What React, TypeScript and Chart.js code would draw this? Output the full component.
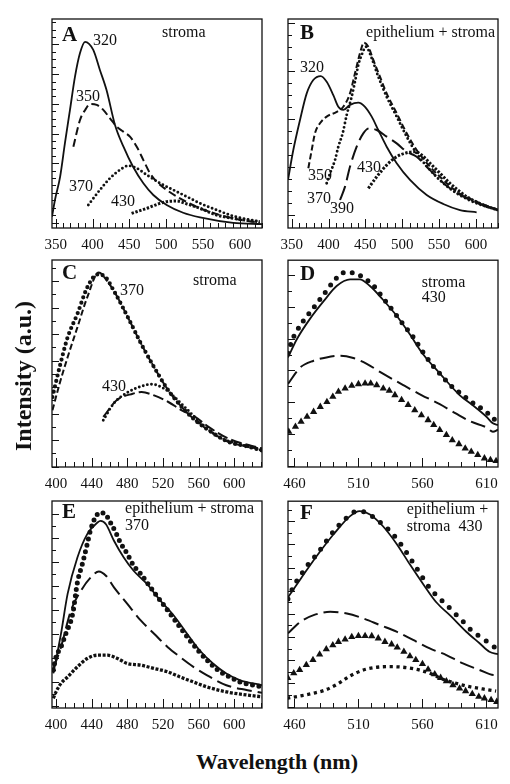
import React, { useEffect, useRef } from "react";
import { Chart, registerables } from "chart.js";

Chart.register(...registerables);

const SERIF = "'Liberation Serif', 'Times New Roman', Times, serif";
Chart.defaults.font.family = SERIF;

// ---------------- Panel A : stroma ----------------
const A_X_TICKS = [350, 400, 450, 500, 550, 600];
const A_WL_320 = [345, 349, 356, 362.6, 369.4, 376.2, 383, 389.8, 401, 410, 419, 430.5, 442, 455, 469, 482.5, 500.6, 523, 546, 591, 630];
const A_INT_320 = [5.4, 13.4, 24.5, 40.7, 56.5, 72.4, 83.7, 89.1, 85.2, 75.6, 66, 49.3, 38.9, 29.3, 21.4, 15.8, 11, 7.3, 5.1, 2.5, 1.9];
const A_WL_350 = [374, 383, 390, 396.6, 405.7, 414.6, 423.7, 432.8, 441.8, 450.8, 460, 469, 478, 487, 500.6, 518.7, 546, 591, 627];
const A_INT_350 = [38.9, 51.7, 56.5, 59.3, 58.9, 56.5, 52.5, 48.5, 46.1, 43.7, 38.9, 32.5, 26.2, 22.2, 18.2, 14.2, 9.4, 4.6, 2.5];
const A_WL_370 = [394.3, 410, 423.7, 437.3, 448.6, 460, 473.5, 491.6, 509.6, 527.8, 546, 568.5, 591, 627];
const A_INT_370 = [11, 18.2, 23.8, 27.8, 29.8, 28.6, 25.4, 21.4, 18.2, 15, 11.8, 8.6, 5.7, 3];
const A_WL_430 = [453, 473.5, 491.6, 500.6, 514, 528, 546, 568.5, 591, 627];
const A_INT_430 = [7, 9.4, 11.8, 12.6, 12.9, 11.5, 9.4, 6.2, 4.6, 3];

// ---------------- Panel B : epithelium + stroma ----------------
const B_X_TICKS = [350, 400, 450, 500, 550, 600];
const B_WL_320 = [345, 352.2, 361.3, 370.4, 379.3, 389.4, 397.5, 406.5, 413.3, 420.1, 429.1, 440.4, 449.5, 458.6, 467.5, 478.9, 492.5, 510.6, 533.2, 555.7, 578.4, 601];
const B_INT_320 = [23, 37.3, 51.7, 64.4, 70.8, 72.7, 70, 63.6, 58, 56.5, 58.9, 60, 58, 53.3, 46.9, 38.9, 31, 23, 15.8, 11.5, 8.6, 7.5];
const B_WL_350 = [372.6, 377.2, 381.6, 388.4, 397.5, 411.1, 420, 429.1, 435.9, 442.7, 448.1, 454, 460.8, 469.8, 478.9, 492.5, 506.1, 519.6, 537.7, 555.7, 573.9, 601, 630];
const B_INT_350 = [28.6, 37.3, 45.3, 50.1, 53.3, 55.6, 58, 64.4, 74, 83.6, 88.7, 86.7, 80.4, 72.4, 64.4, 54.9, 45.3, 37.3, 29.3, 23, 17.4, 12.6, 8.6];
const B_WL_370 = [397.5, 402.9, 408.8, 413.3, 419.2, 424.7, 431.4, 437.3, 440.4, 445, 450.8, 458.6, 467.5, 478.9, 492.5, 506.1, 519.6, 537.7, 555.7, 573.9, 601, 630];
const B_INT_370 = [21.4, 26.9, 32.5, 38.9, 45.3, 54.1, 62.8, 72.4, 78, 82.8, 86.7, 81.2, 72.4, 62.8, 53.3, 43.7, 35.7, 27.8, 21.4, 16.6, 11.8, 8.6];
const B_WL_390 = [415.6, 422.4, 429.1, 438.2, 447.2, 455.3, 465.4, 478.9, 492.5, 506.1, 519.6, 533.2, 546.8, 564.8, 587.5, 610, 630];
const B_INT_390 = [13.4, 19.8, 29.3, 38.9, 45.3, 47.7, 46.9, 43.7, 40.5, 36.5, 34.1, 29.3, 24.5, 19, 14.2, 11, 8.6];
const B_WL_430 = [454, 465.4, 478.9, 492.5, 506.1, 517.3, 526.4, 537.7, 551.3, 564.8, 587.5, 610, 630];
const B_INT_430 = [19, 24.5, 30.1, 34.1, 36, 36.5, 34.9, 31, 26.2, 21.4, 15, 11, 8.6];

// ---------------- Panel C : stroma, 370 / 430 ----------------
const C_X_TICKS = [400, 440, 480, 520, 560, 600];
const C_WL_370_DOTS = [396, 404, 413, 424, 435, 446.5, 454, 465, 480.6, 495.5, 510, 526, 541, 556, 571, 593, 616, 631];
const C_INT_370_DOTS = [33.8, 48.2, 62.6, 74, 86.7, 93, 92.3, 85, 72.3, 59.5, 48.2, 37, 29, 22.6, 17.8, 12.2, 9.8, 8];
const C_WL_370_FIT = [396, 404, 413, 424, 435, 448, 457, 465, 480.6, 495.5, 510, 526, 541, 556, 571, 593, 616, 631];
const C_INT_370_FIT = [27.4, 40.2, 53, 67.5, 81.9, 94, 90, 85, 72.3, 59.5, 48.2, 37, 29, 22.6, 17.8, 12.2, 9.8, 8.4];
const C_WL_430_DOTS = [453, 465, 481, 496, 507, 521.5, 536.7, 548, 563, 582, 609, 631];
const C_INT_430_DOTS = [22.6, 30.8, 36.2, 39, 40, 37.8, 32.2, 27.4, 21, 14.6, 10.6, 8];
const C_WL_430_FIT = [453, 468, 486, 496, 510, 526, 541, 556, 571, 593, 616, 631];
const C_INT_430_FIT = [24.2, 32.2, 35.4, 36.2, 34.6, 31.4, 27.4, 24.2, 19.4, 13.8, 10.6, 9];

// ---------------- Panel D : stroma 430 ----------------
const D_X_TICKS = [460, 510, 560, 610];
const D_WL_DOTS = [455, 458, 462, 467, 475, 483, 491, 498, 506, 514, 522, 529, 537, 545, 553, 560.5, 568, 576, 581, 588, 593, 598, 603, 608, 612, 617];
const D_INT_DOTS = [55, 61, 65.9, 70.7, 77, 83.5, 90, 93.9, 93.9, 91.5, 87.5, 81.9, 75.5, 69, 62.6, 55.5, 49, 43.5, 40, 36.5, 34, 31.5, 29.5, 27.5, 25.5, 22.5];
const D_WL_FIT = [455, 462, 472, 483, 493, 503.5, 511, 519, 529, 540, 550, 560.5, 573.5, 589, 599, 610, 615, 619];
const D_INT_FIT = [53, 61.9, 71.5, 80.3, 87.5, 90.7, 90.7, 87.5, 81, 73, 64.3, 54.5, 45.3, 34.8, 30, 24.3, 21.1, 20.3];
const D_WL_DASH = [455, 464.7, 475, 485, 496, 506, 516.5, 526.8, 545, 559.2, 573.5, 586, 598, 609.8, 615, 619];
const D_INT_DASH = [40.2, 48.2, 51.4, 53, 53.8, 52.7, 49.9, 46, 39.6, 34.8, 30.4, 25.9, 21.9, 19.2, 17.1, 18];
const D_WL_TRI = [455.6, 460.8, 465.2, 469.9, 475, 480.2, 485.4, 490, 494.4, 499.6, 504.8, 510, 515.2, 519.6, 524.3, 529.4, 534.1, 538.5, 543.7, 548.8, 554, 559.2, 564.4, 568.8, 573.5, 578.7, 583.3, 588.5, 593.4, 598.1, 603.2, 608.4, 613.1, 617.5];
const D_INT_TRI = [17.1, 19.5, 21.9, 24.3, 26.7, 29.1, 31.5, 34, 36.4, 38, 39.3, 40.1, 40.4, 40.4, 39.6, 38, 36.9, 34.8, 32.4, 30, 27.5, 25.1, 22.7, 20.3, 17.9, 15.5, 13, 11.1, 9, 7.4, 5.8, 4.2, 3.4, 2.9];

// ---------------- Panel E : epithelium + stroma 370 ----------------
const E_X_TICKS = [400, 440, 480, 520, 560, 600];
const E_WL_DOTS = [397, 400, 405.6, 411, 418.7, 424, 430, 435, 439, 445, 450, 456, 461, 467, 472, 480, 487, 495, 506, 517, 528, 539, 550, 561, 573, 584, 595, 606, 621, 631];
const E_INT_DOTS = [18.3, 24.7, 29.5, 35.9, 45.5, 60.7, 70.3, 79.2, 86.4, 92.8, 94.4, 93.3, 89.6, 84.8, 80, 74.4, 68.8, 64.8, 58.3, 51.9, 45.5, 39, 32.7, 27, 21.5, 17.5, 15, 12.6, 11, 10.2];
const E_WL_FIT = [397, 405.6, 413, 424, 435, 446.5, 450, 456, 465, 476, 487, 502, 517, 532, 547, 561, 576, 591, 606, 631];
const E_INT_FIT = [16.7, 35.9, 55.1, 72.7, 84, 89.6, 90.4, 88.8, 80.8, 72.7, 66.3, 59.9, 51.9, 44.7, 35.9, 27.9, 21.5, 16.7, 13.5, 11];
const E_WL_DASH = [397, 405.6, 416.7, 428, 439, 448, 456, 465, 480, 495, 510, 525, 539, 554, 569, 591, 613.6, 631];
const E_INT_DASH = [19.1, 29.5, 47.1, 56.7, 63.1, 66, 63.9, 58.3, 50.3, 42.3, 35.9, 29.5, 24.7, 19.9, 15.9, 11, 8.7, 7.4];
const E_WL_SQ = [397, 400, 405.6, 413, 424, 435, 446.5, 458, 469, 480, 495, 510, 525, 539, 554, 569, 591, 613.6, 631];
const E_INT_SQ = [4.7, 7.8, 11.9, 15, 19.9, 23.9, 25.5, 25.5, 23.9, 21.5, 20.7, 19.1, 17.5, 15, 12.6, 10.2, 7.8, 6.3, 5.4];

// ---------------- Panel F : epithelium + stroma 430 ----------------
const F_X_TICKS = [460, 510, 560, 610];
const F_WL_DOTS = [455, 459.5, 464.7, 471, 477.6, 485, 493, 501, 509, 516.5, 524, 534.6, 545, 555, 565.7, 573.5, 581, 586.5, 593, 598, 603, 608, 613, 617.5];
const F_INT_DOTS = [52.7, 59, 64, 69.6, 74.4, 80.8, 87.2, 92, 95.2, 94.4, 91.2, 85.6, 77.6, 68, 58, 53, 48.5, 45, 41, 37.7, 35.3, 33.2, 31, 28.8];
const F_WL_FIT = [455, 464.7, 477.6, 490.6, 503.5, 511, 519, 529, 540, 550, 560.5, 571, 582, 594, 604.6, 612.3, 619];
const F_INT_FIT = [53.5, 62.3, 73.6, 84, 92.8, 95.2, 93.6, 88, 79.2, 69.6, 60, 51, 44.5, 37, 31.3, 27.2, 26];
const F_WL_DASH = [455, 464.7, 475, 488, 501, 513.9, 526.8, 539.8, 552.7, 565.7, 578.7, 591.6, 604.6, 616.2, 619];
const F_INT_DASH = [36.1, 41.7, 44.9, 46.5, 45.7, 43.3, 40.1, 36.9, 32.9, 28.8, 25.6, 21.6, 18.4, 15.9, 15.9];
const F_WL_TRI = [454.8, 459.5, 464.1, 469.3, 474.5, 479.7, 484.9, 490, 494.4, 499.6, 504.8, 510, 515.2, 520.4, 525.5, 530.7, 535.9, 540.3, 545.5, 550.2, 554.8, 560, 564.4, 569.6, 574.2, 578.7, 583.8, 589, 593.7, 598.9, 604, 608.4, 613.6, 618];
const F_INT_TRI = [14.6, 16.8, 18.4, 20.8, 23.2, 25.9, 28.4, 30.4, 32, 33.2, 34.4, 34.9, 34.9, 34.8, 33.7, 32, 30.8, 29.3, 27.2, 25.1, 23.2, 21.3, 18.7, 16.4, 14.6, 13, 11.1, 9.5, 8.2, 6.8, 5.5, 4.7, 3.9, 3];
const F_WL_SQ = [454.3, 464.1, 474.5, 484.1, 493.7, 503.5, 513.9, 524.3, 534.6, 545, 555.4, 565.7, 576, 586.5, 596.8, 607.1, 617.5];
const F_INT_SQ = [4.7, 5.8, 7.1, 8.7, 11.6, 15.5, 18.4, 19.7, 20, 19.7, 18.7, 16.8, 13.9, 11.9, 10.3, 9.2, 8.2];

// ---------------- styles & layout ----------------
type StyleName =
  | "solid" | "dash" | "shortDash" | "mediumDash" | "longDash"
  | "dotsSmall" | "dotsC" | "dotsD" | "dotsE" | "dotsF"
  | "squaresChain" | "squaresSpaced" | "miniTri" | "triangles";

const STYLES: Record<StyleName, any> = {
  solid: { borderWidth: 1.8, borderDash: [], borderCapStyle: "butt" },
  dash: { borderWidth: 2, borderDash: [8, 4], borderCapStyle: "butt" },
  shortDash: { borderWidth: 2, borderDash: [6, 3], borderCapStyle: "butt" },
  mediumDash: { borderWidth: 2, borderDash: [11, 4], borderCapStyle: "butt" },
  longDash: { borderWidth: 2, borderDash: [15, 6], borderCapStyle: "butt" },
  dotsSmall: { borderWidth: 2.9, borderDash: [0, 4.2], borderCapStyle: "round" },
  dotsC: { borderWidth: 4.2, borderDash: [0, 5.5], borderCapStyle: "round" },
  dotsD: { borderWidth: 5, borderDash: [0, 9], borderCapStyle: "round" },
  dotsE: { borderWidth: 5, borderDash: [0, 6.5], borderCapStyle: "round" },
  dotsF: { borderWidth: 5, borderDash: [0, 10], borderCapStyle: "round" },
  squaresChain: { borderWidth: 3.3, borderDash: [3, 1.6], borderCapStyle: "butt" },
  squaresSpaced: { borderWidth: 3.3, borderDash: [3.2, 3.6], borderCapStyle: "butt" },
  miniTri: { borderWidth: 3, borderDash: [2.4, 1.6], borderCapStyle: "butt" },
  triangles: { showLine: false, pointStyle: "triangle", pointRadius: 4.2, pointBackgroundColor: "#111", pointBorderColor: "#111", pointBorderWidth: 0 },
};

interface Series { wl: number[]; val: number[]; style: StyleName }
interface Note { text: string; x: number; y: number; bold?: boolean; size?: number; align?: CanvasTextAlign }
interface Panel {
  key: string; left: number; top: number; width: number; height: number; padRight: number;
  xMin: number; xMax: number; xTicks: number[]; minorStep: number;
  yStart: number; yStep: number; yMajorEvery: number;
  series: Series[]; notes: Note[];
}

const PAD_L = 20;
const PAD_T = 4;
const AXIS_H = 32;

const PANELS: Panel[] = [
  {
    key: "A", left: 52, top: 19, width: 210, height: 209, padRight: 16,
    xMin: 345, xMax: 630, xTicks: A_X_TICKS, minorStep: 10,
    yStart: 2.6, yStep: 3.55, yMajorEvery: 4,
    series: [
      { wl: A_WL_430, val: A_INT_430, style: "miniTri" },
      { wl: A_WL_370, val: A_INT_370, style: "dotsSmall" },
      { wl: A_WL_350, val: A_INT_350, style: "dash" },
      { wl: A_WL_320, val: A_INT_320, style: "solid" },
    ],
    notes: [
      { text: "A", x: 358.6, y: 92.3, bold: true, size: 21 },
      { text: "320", x: 400.6, y: 89.5 },
      { text: "stroma", x: 494.3, y: 93.3 },
      { text: "350", x: 377.6, y: 62.7 },
      { text: "370", x: 368.1, y: 19.6 },
      { text: "430", x: 425.1, y: 12.4 },
    ],
  },
  {
    key: "B", left: 288, top: 19, width: 210, height: 209, padRight: 12,
    xMin: 345, xMax: 630, xTicks: B_X_TICKS, minorStep: 10,
    yStart: 6.2, yStep: 5.74, yMajorEvery: 4,
    series: [
      { wl: B_WL_430, val: B_INT_430, style: "miniTri" },
      { wl: B_WL_390, val: B_INT_390, style: "longDash" },
      { wl: B_WL_370, val: B_INT_370, style: "dotsSmall" },
      { wl: B_WL_350, val: B_INT_350, style: "shortDash" },
      { wl: B_WL_320, val: B_INT_320, style: "solid" },
    ],
    notes: [
      { text: "B", x: 361.3, y: 92.8, bold: true, size: 21 },
      { text: "epithelium + stroma", x: 626, y: 93.3, align: "right" },
      { text: "320", x: 361.3, y: 76.6 },
      { text: "350", x: 372.1, y: 24.9 },
      { text: "370", x: 370.8, y: 13.9 },
      { text: "390", x: 402, y: 9.1 },
      { text: "430", x: 438.6, y: 28.7 },
    ],
  },
  {
    key: "C", left: 52, top: 260, width: 210, height: 207, padRight: 16,
    xMin: 395.5, xMax: 631, xTicks: C_X_TICKS, minorStep: 10,
    yStart: 0.2, yStep: 6.4, yMajorEvery: 2,
    series: [
      { wl: C_WL_430_FIT, val: C_INT_430_FIT, style: "mediumDash" },
      { wl: C_WL_430_DOTS, val: C_INT_430_DOTS, style: "dotsSmall" },
      { wl: C_WL_370_FIT, val: C_INT_370_FIT, style: "shortDash" },
      { wl: C_WL_370_DOTS, val: C_INT_370_DOTS, style: "dotsC" },
    ],
    notes: [
      { text: "C", x: 406.7, y: 93.2, bold: true, size: 21 },
      { text: "370", x: 471.8, y: 85 },
      { text: "stroma", x: 553.6, y: 89.9 },
      { text: "430", x: 451.6, y: 38.6 },
    ],
  },
  {
    key: "D", left: 288, top: 260, width: 210, height: 207, padRight: 12,
    xMin: 455, xMax: 619, xTicks: D_X_TICKS, minorStep: 10,
    yStart: 0.5, yStep: 7.7, yMajorEvery: 2,
    series: [
      { wl: D_WL_TRI, val: D_INT_TRI, style: "triangles" },
      { wl: D_WL_DASH, val: D_INT_DASH, style: "longDash" },
      { wl: D_WL_FIT, val: D_INT_FIT, style: "solid" },
      { wl: D_WL_DOTS, val: D_INT_DOTS, style: "dotsD" },
    ],
    notes: [
      { text: "D", x: 464.4, y: 93.2, bold: true, size: 21 },
      { text: "stroma", x: 559.5, y: 88.9 },
      { text: "430", x: 559.5, y: 81.6 },
    ],
  },
  {
    key: "E", left: 52, top: 501, width: 210, height: 207, padRight: 16,
    xMin: 395.5, xMax: 631, xTicks: E_X_TICKS, minorStep: 10,
    yStart: 1.1, yStep: 5.8, yMajorEvery: 2,
    series: [
      { wl: E_WL_SQ, val: E_INT_SQ, style: "squaresChain" },
      { wl: E_WL_DASH, val: E_INT_DASH, style: "longDash" },
      { wl: E_WL_FIT, val: E_INT_FIT, style: "solid" },
      { wl: E_WL_DOTS, val: E_INT_DOTS, style: "dotsE" },
    ],
    notes: [
      { text: "E", x: 406.7, y: 94.2, bold: true, size: 21 },
      { text: "epithelium + stroma", x: 477.4, y: 96.1 },
      { text: "370", x: 477.4, y: 87.9 },
    ],
  },
  {
    key: "F", left: 288, top: 501, width: 210, height: 207, padRight: 12,
    xMin: 455, xMax: 619, xTicks: F_X_TICKS, minorStep: 10,
    yStart: 0.7, yStep: 5.6, yMajorEvery: 2,
    series: [
      { wl: F_WL_SQ, val: F_INT_SQ, style: "squaresSpaced" },
      { wl: F_WL_TRI, val: F_INT_TRI, style: "triangles" },
      { wl: F_WL_DASH, val: F_INT_DASH, style: "longDash" },
      { wl: F_WL_FIT, val: F_INT_FIT, style: "solid" },
      { wl: F_WL_DOTS, val: F_INT_DOTS, style: "dotsF" },
    ],
    notes: [
      { text: "F", x: 464.4, y: 94.2, bold: true, size: 21 },
      { text: "epithelium +", x: 547.8, y: 95.7 },
      { text: "stroma  430", x: 547.8, y: 87.4 },
    ],
  },
];

function makeDataset(s: Series) {
  const st = STYLES[s.style];
  return {
    data: s.wl.map((x, i) => ({ x, y: s.val[i] })),
    borderColor: "#111",
    backgroundColor: "#111",
    fill: false,
    pointRadius: 0,
    pointHoverRadius: 0,
    cubicInterpolationMode: "monotone",
    ...st,
  };
}

function framePlugin(p: Panel) {
  return {
    id: "frame",
    afterDatasetsDraw(chart: any) {
      const { ctx, chartArea: a, scales } = chart;
      const xs = scales.x;
      const ys = scales.y;
      ctx.save();
      ctx.strokeStyle = "#111";
      ctx.lineWidth = 1.3;
      ctx.strokeRect(a.left, a.top, a.right - a.left, a.bottom - a.top);
      ctx.lineWidth = 1;
      const first = Math.ceil(p.xMin / p.minorStep) * p.minorStep;
      for (let v = first; v <= p.xMax + 1e-6; v += p.minorStep) {
        const x = Math.round(xs.getPixelForValue(v)) + 0.5;
        const major = p.xTicks.some((t) => Math.abs(t - v) < 1e-6);
        ctx.beginPath();
        ctx.moveTo(x, a.bottom);
        ctx.lineTo(x, a.bottom - (major ? 9 : 5));
        ctx.stroke();
      }
      let i = 0;
      for (let v = p.yStart; v <= 99; v += p.yStep, i++) {
        const y = Math.round(ys.getPixelForValue(v)) + 0.5;
        const major = i % p.yMajorEvery === 0;
        ctx.beginPath();
        ctx.moveTo(a.left, y);
        ctx.lineTo(a.left + (major ? 7 : 4), y);
        ctx.stroke();
      }
      ctx.fillStyle = "#111";
      ctx.textBaseline = "middle";
      for (const n of p.notes) {
        ctx.font = `${n.bold ? "bold " : ""}${n.size ?? 16}px ${SERIF}`;
        ctx.textAlign = n.align ?? "left";
        ctx.fillText(n.text, xs.getPixelForValue(n.x), ys.getPixelForValue(n.y));
      }
      ctx.restore();
    },
  };
}

function PanelChart({ p }: { p: Panel }) {
  const ref = useRef<HTMLCanvasElement>(null);
  const w = PAD_L + p.width + p.padRight;
  const h = PAD_T + p.height + AXIS_H;
  useEffect(() => {
    const canvas = ref.current;
    if (!canvas) return;
    const chart = new Chart(canvas, {
      type: "line",
      data: { datasets: p.series.map(makeDataset) as any },
      options: {
        animation: false,
        responsive: false,
        maintainAspectRatio: false,
        devicePixelRatio: 1,
        events: [],
        layout: { padding: { left: PAD_L, right: p.padRight, top: PAD_T, bottom: 0 } },
        plugins: { legend: { display: false }, tooltip: { enabled: false }, title: { display: false } },
        scales: {
          x: {
            type: "linear",
            min: p.xMin,
            max: p.xMax,
            grid: { display: false, drawTicks: false },
            border: { display: false },
            ticks: { color: "#111", font: { family: SERIF, size: 15 }, padding: 8, maxRotation: 0, autoSkip: false },
            afterBuildTicks: (s: any) => {
              s.ticks = p.xTicks.map((v) => ({ value: v }));
            },
            afterFit: (s: any) => {
              s.height = AXIS_H;
            },
          },
          y: { type: "linear", display: false, min: 0, max: 100 },
        },
      } as any,
      plugins: [framePlugin(p)],
    });
    return () => chart.destroy();
  }, [p]);
  return (
    <canvas
      ref={ref}
      width={w}
      height={h}
      style={{ position: "absolute", left: p.left - PAD_L, top: p.top - PAD_T, width: w, height: h }}
    />
  );
}

export default function App() {
  return (
    <div style={{ position: "absolute", left: 0, top: 0, width: 510, height: 784, overflow: "hidden", background: "#fff" }}>
      {PANELS.map((p) => (
        <PanelChart key={p.key} p={p} />
      ))}
      <div
        style={{
          position: "absolute", left: 23, top: 376, transform: "translate(-50%, -50%) rotate(-90deg)",
          whiteSpace: "nowrap", fontFamily: SERIF, fontWeight: "bold", fontSize: 24, color: "#111", lineHeight: 1,
        }}
      >
        Intensity (a.u.)
      </div>
      <div
        style={{
          position: "absolute", left: 277, top: 762, transform: "translate(-50%, -50%)",
          whiteSpace: "nowrap", fontFamily: SERIF, fontWeight: "bold", fontSize: 22, color: "#111", lineHeight: 1,
        }}
      >
        Wavelength (nm)
      </div>
    </div>
  );
}
